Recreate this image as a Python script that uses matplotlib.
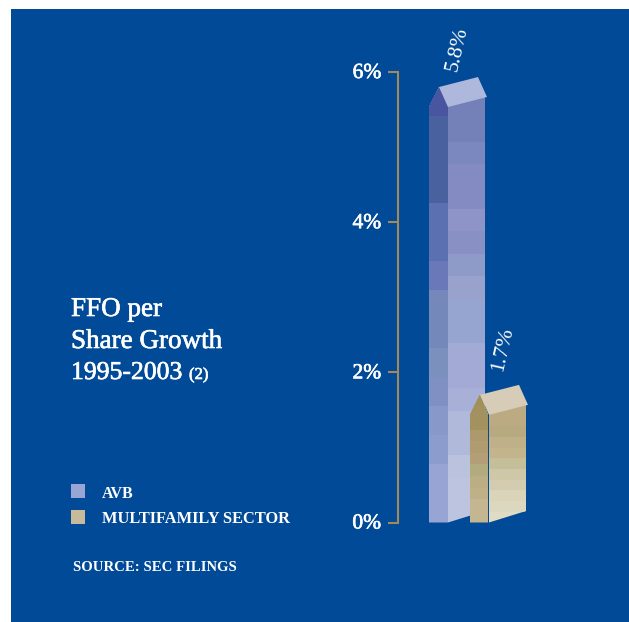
import matplotlib
matplotlib.use('Agg')
import matplotlib.pyplot as plt
import matplotlib.patheffects as pe
from matplotlib.patches import Polygon, Rectangle
from matplotlib.transforms import ScaledTranslation

W, H = 629, 622
PANEL = '#014a97'
AXIS_COLOR = '#a08a5c'
SERIF = 'Liberation Serif'

# values
labels = ['AVB', 'MULTIFAMILY SECTOR']
values = [5.8, 1.7]
value_labels = ['5.8%', '1.7%']
yticks = [0, 2, 4, 6]
ytick_labels = ['0%', '2%', '4%', '6%']

# band colours, bottom to top
avb_left = ['#98a4d4', '#98a4d4', '#8c9ccc', '#8898c8', '#8090c2', '#7c90be', '#7488ba', '#7488ba',
            '#6a78ba', '#5a70b0', '#5a70b0', '#49629f', '#49629f', '#49629f', '#4a55a0']
avb_right = ['#bcc4e0', '#bcc4e0', '#bac2de', '#b0b9da', '#b0b9da', '#a8b0d8', '#a4aad6',
             '#a4aad6', '#96a4d0', '#96a4d0', '#98a2cc', '#8e9ac8', '#8890c4', '#8e94c8',
             '#838bc2', '#838bc2', '#7a88bf', '#7480b8', '#7480b8']
sector_left = ['#c4b690', '#c4b690', '#c0b088', '#bcae84', '#b2ab80', '#b49e78',
               '#b09c70', '#ac9a6c', '#a3925f', '#a3925f', '#a09058']
sector_right = ['#e0dcc4', '#dcd8c0', '#dad4ba', '#d4ccb0', '#cfc8a8', '#c4bf98',
                '#c4b48c', '#c0b08a', '#b8aa80', '#bcab82', '#bcab82']
avb_roof = '#adb8dc'
sector_roof = '#d6ccb8'

# y axis scale: 0% and 6% land on these pixel rows
Y0_PX, Y6_PX = 522.5, 72.0
PX = (Y0_PX - Y6_PX) / 6

# thin outline thickens the regular serif to a semi-bold look
SEMI = [pe.withStroke(linewidth=0.45, foreground='white')]


def dy(px):
    return px / PX


def px_y(row):
    return (Y0_PX - row) / PX


def bands(ax, face, colors, top):
    # each band runs up to the top so no seams show between them
    ax.add_patch(face)
    n = len(colors)
    x0 = face.get_xy()[:, 0].min()
    x1 = face.get_xy()[:, 0].max()
    for i, c in enumerate(colors):
        y = top * i / n
        r = Rectangle((x0, y), x1 - x0, top - y, facecolor=c, edgecolor='none', zorder=face.get_zorder())
        ax.add_patch(r)
        r.set_clip_path(face)


def building(ax, x, value, left, right, roof, gap=0, z=3):
    eave = value - dy(20)
    mid = x + 19
    left_face = Polygon([(x, 0), (x, eave), (x + 10, value), (mid - gap, eave), (mid - gap, 0)],
                        facecolor='none', edgecolor='none', zorder=z)
    right_top = value + dy(10)
    right_face = Polygon([(mid, 0), (mid, eave), (x + 56, eave + dy(10)), (x + 56, dy(11.5))],
                         facecolor='none', edgecolor='none', zorder=z)
    bands(ax, left_face, left, value)
    bands(ax, right_face, right, eave + dy(10))
    ax.add_patch(Polygon([(x + 10, value), (x + 49, right_top), (x + 58, eave + dy(10)), (mid, eave)],
                         facecolor=roof, edgecolor='none', zorder=z + 1))


fig = plt.figure(figsize=(W / 100, H / 100), dpi=100, facecolor='white')
fig.patches.append(Rectangle((11 / W, 0), 1 - 11 / W, 1 - 9 / H, transform=fig.transFigure,
                             facecolor=PANEL, edgecolor='none', zorder=-1))

ax = fig.add_axes([0, 0, 1, 1])
ax.patch.set_visible(False)
ax.set_xlim(0, W)
ax.set_ylim(-(H - Y0_PX) / PX, 6 + Y6_PX / PX)

for s in ['top', 'right', 'bottom']:
    ax.spines[s].set_visible(False)
ax.spines['left'].set_position(('data', 397.5))
ax.spines['left'].set_bounds(0, 6)
ax.spines['left'].set_color(AXIS_COLOR)
ax.spines['left'].set_linewidth(1.5)
ax.set_xticks([])
ax.set_yticks(yticks)
ax.set_yticklabels(ytick_labels, family=SERIF, fontsize=15.5, color='white', path_effects=SEMI)
ax.tick_params(axis='y', length=7.2, width=1.5, color=AXIS_COLOR, pad=4.5)
# labels sit a little above their ticks
for lab in ax.get_yticklabels():
    lab.set_transform(lab.get_transform() + ScaledTranslation(0, 1 / 100, fig.dpi_scale_trans))

building(ax, 429, values[0], avb_left, avb_right, avb_roof)
building(ax, 470, values[1], sector_left, sector_right, sector_roof, gap=1, z=5)

# value labels run along the slant of the roofs
ax.text(457.5, values[0] + dy(38), value_labels[0], rotation=77, ha='center', va='center',
        family=SERIF, fontsize=15.5, color='white', rotation_mode='anchor')
ax.text(502.5, values[1] + dy(46), value_labels[1], rotation=77, ha='center', va='center',
        family=SERIF, fontsize=15.5, color='white', rotation_mode='anchor')

title = ['FFO per', 'Share Growth']
ax.text(71, px_y(316), title[0], family=SERIF, fontsize=19.5, color='white', va='baseline', path_effects=SEMI)
ax.text(71, px_y(348), title[1], family=SERIF, fontsize=19.5, color='white', va='baseline', path_effects=SEMI)
ax.text(71, px_y(379), '1995-2003', family=SERIF, fontsize=18.5, color='white', va='baseline', path_effects=SEMI)
ax.text(189, px_y(379), '(2)', family=SERIF, fontsize=12, color='white', va='baseline', path_effects=SEMI)

# legend
ax.add_patch(Rectangle((71, px_y(498)), 14, dy(14), facecolor='#98a6d6', edgecolor='none'))
ax.add_patch(Rectangle((71, px_y(524)), 14, dy(14), facecolor='#c8bb9c', edgecolor='none'))
ax.text(102, px_y(497.5), labels[0], family=SERIF, fontsize=11.5, weight='bold', color='white', va='baseline')
ax.text(102, px_y(523), labels[1], family=SERIF, fontsize=11.8, weight='bold', color='white', va='baseline')
ax.text(73, px_y(571), 'SOURCE: SEC FILINGS', family=SERIF, fontsize=10.6, weight='bold', color='white', va='baseline')

fig.savefig('out.png', dpi=100, facecolor='white')
